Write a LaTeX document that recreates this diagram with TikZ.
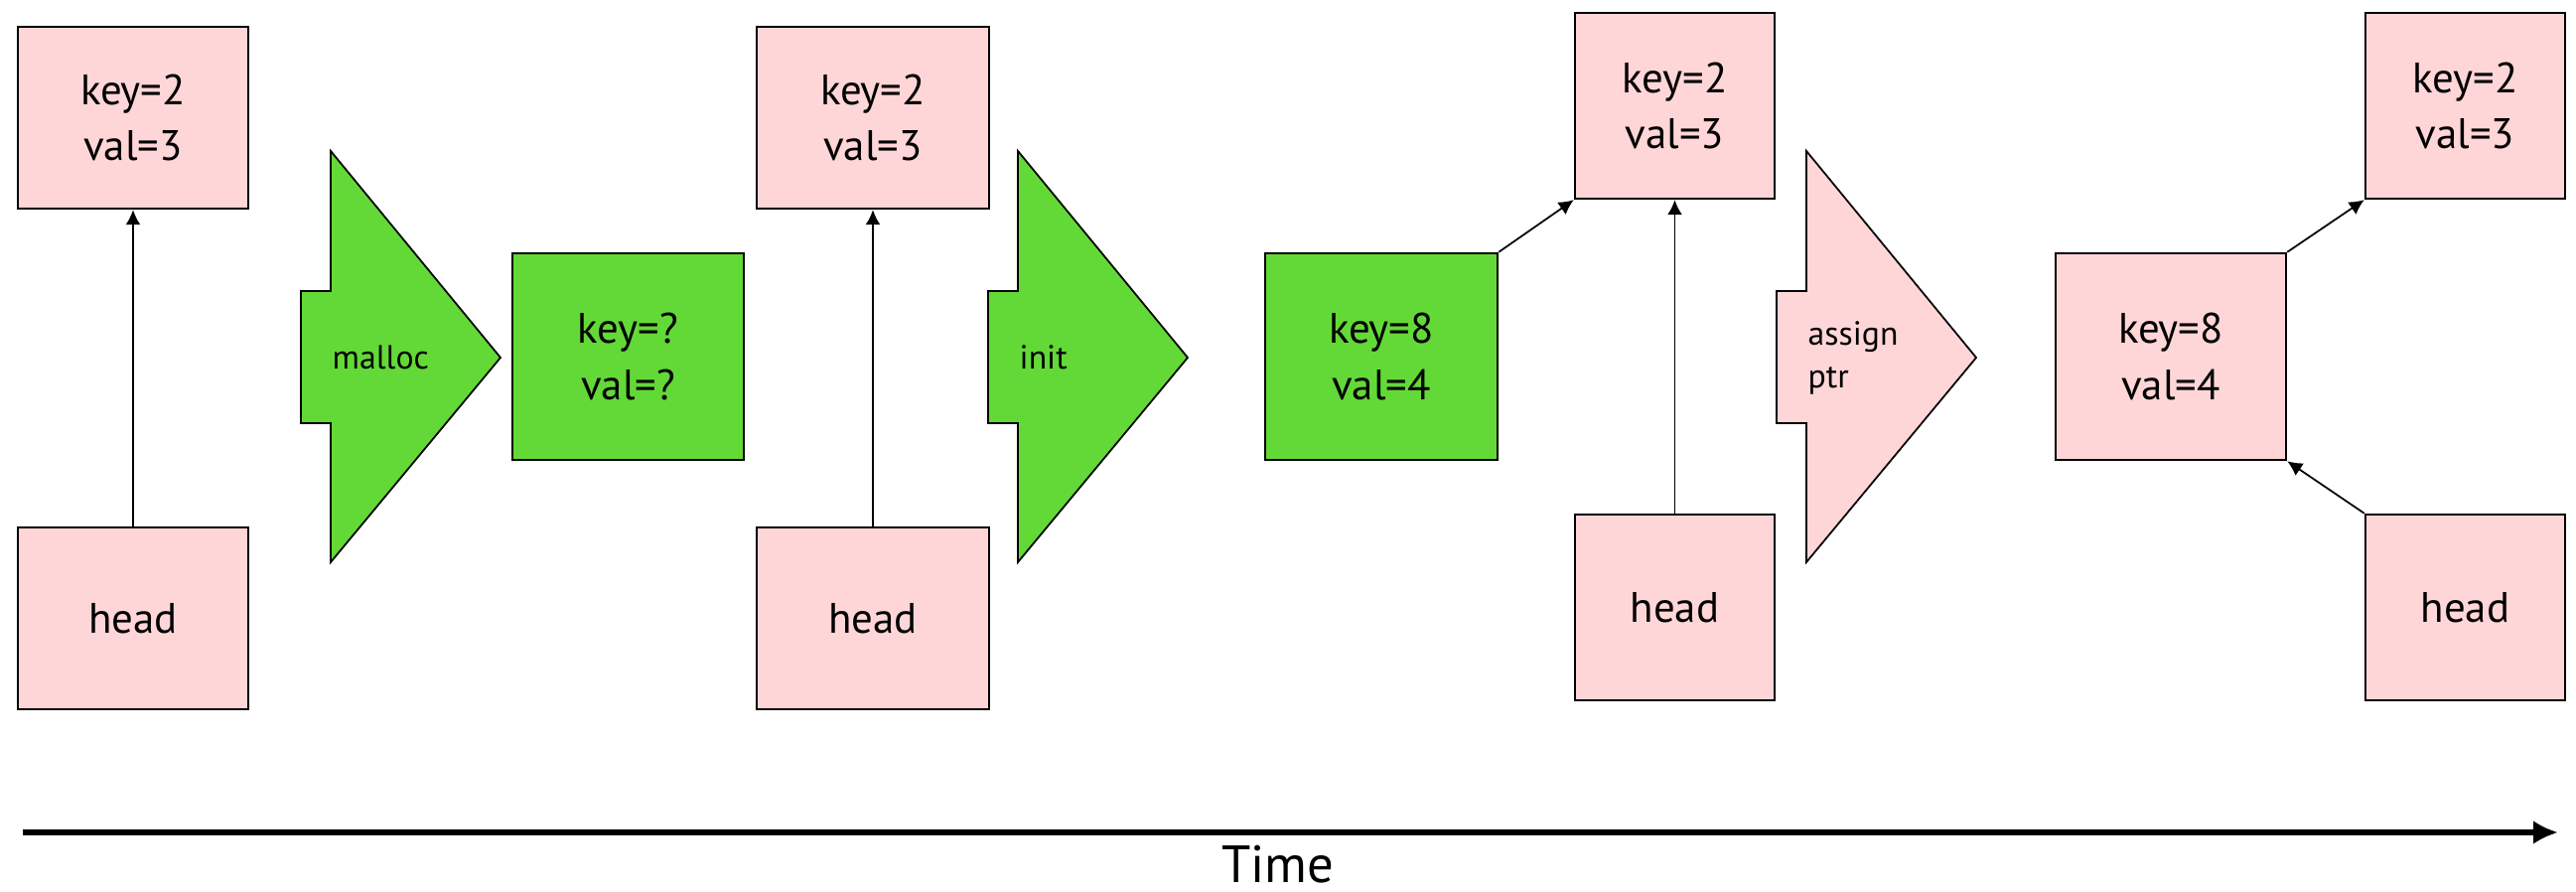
\documentclass[tikz,border=0pt]{standalone}
\usepackage{fontspec}
\setmainfont{PT Sans}
\usetikzlibrary{arrows.meta}
\definecolor{cellpink}{RGB}{255,214,216}
\definecolor{cellgreen}{RGB}{99,217,55}

\begin{document}
\begin{tikzpicture}
	\tikzstyle{cell} = [ draw, rectangle, line width=0.7pt, align=center, inner sep=0pt, font={\fontsize{12.2}{16.2}\selectfont} ];
	\tikzstyle{wide} = [ cell, minimum width=2.32cm, minimum height=1.83cm ];
	\tikzstyle{slim} = [ cell, minimum width=2.01cm, minimum height=1.87cm ];
	\tikzstyle{fresh} = [ cell, minimum width=2.33cm, minimum height=2.08cm ];
	\tikzstyle{stepshape} = [ draw, line width=0.5pt, line join=miter ];
	\tikzstyle{steplabel} = [ align=left, inner sep=0pt, font={\fontsize{9.6}{12.2}\selectfont} ];
	\tikzstyle{point} = [ -{Latex[length=0.15cm, width=0.15cm]}, line width=0.5pt ];
	\tikzstyle{axis} = [ -{Latex[length=0.25cm, width=0.24cm]}, line width=1.5pt ];

	\useasboundingbox (0,0) rectangle (25.94,-8.98);

	% list before malloc
	\node[wide, fill=cellpink] (k1) at (1.34,-1.185) {key=2\\val=3};
	\node[wide, fill=cellpink] (h1) at (1.34,-6.225) {head};
	\draw[point] (h1) -- (k1);

	% the three steps
	\foreach \x/\c/\t [count=\i] in {3.03/cellgreen/malloc, 9.95/cellgreen/init, 17.89/cellpink/{assign\\ptr}} {
		\draw[stepshape, fill=\c] (\x,-2.93) -- ({\x+0.3},-2.93) -- ({\x+0.3},-1.52) -- ({\x+2.01},-3.60)
			-- ({\x+0.3},-5.66) -- ({\x+0.3},-4.26) -- (\x,-4.26) -- cycle;
		\node[steplabel, anchor=west] (op\i) at ({\x+0.31},-3.60) {\t};
	}

	\node[fresh, fill=cellgreen] (q) at (6.325,-3.59) {key=?\\val=?};

	% list before init
	\node[wide, minimum width=2.34cm, fill=cellpink] (k2) at (8.79,-1.185) {key=2\\val=3};
	\node[wide, minimum width=2.34cm, fill=cellpink] (h2) at (8.79,-6.225) {head};
	\draw[point] (h2) -- (k2);

	% new node points at old head
	\node[fresh, minimum width=2.34cm, fill=cellgreen] (n1) at (13.91,-3.59) {key=8\\val=4};
	\node[slim, fill=cellpink] (k3) at (16.865,-1.065) {key=2\\val=3};
	\node[slim, fill=cellpink] (h3) at (16.865,-6.115) {head};
	\draw[point] (n1.north east) -- (k3.south west);
	\draw[point] (h3) -- (k3);

	% head moved to new node
	\node[fresh, minimum width=2.32cm, fill=cellpink] (n2) at (21.86,-3.59) {key=8\\val=4};
	\node[slim, fill=cellpink] (k4) at (24.825,-1.065) {key=2\\val=3};
	\node[slim, fill=cellpink] (h4) at (24.825,-6.115) {head};
	\draw[point] (n2.north east) -- (k4.south west);
	\draw[point] (h4.north west) -- (n2.south east);

	% time line
	\coordinate (t0) at (0.23,-8.38);
	\coordinate (t1) at (25.76,-8.38);
	\draw[axis] (t0) -- (t1);
	\node[font={\fontsize{15}{18}\selectfont}, anchor=base] (time) at (12.87,-8.88) {Time};
\end{tikzpicture}
\end{document}
